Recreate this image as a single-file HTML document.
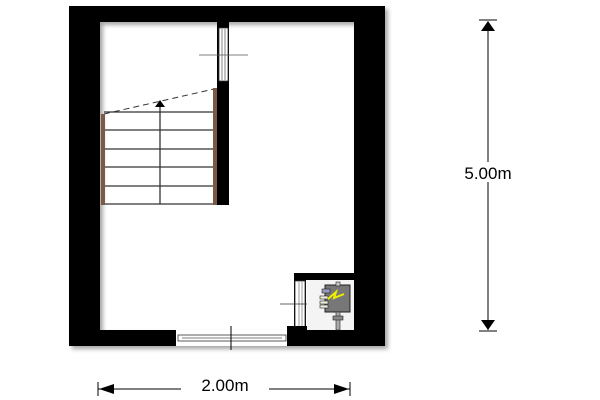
<!DOCTYPE html>
<html><head><meta charset="utf-8"><style>
html,body{margin:0;padding:0;background:#fff;width:600px;height:400px;overflow:hidden}
</style></head><body>
<svg width="600" height="400" xmlns="http://www.w3.org/2000/svg">
<defs><filter id="s" x="-10%" y="-10%" width="130%" height="130%"><feDropShadow dx="3" dy="3" stdDeviation="2" flood-color="#000" flood-opacity="0.35"/></filter></defs>
<g filter="url(#s)">
<path fill="#000" fill-rule="evenodd" d="M69 6H385V346H69Z M100 22H354V330H100Z"/>
</g>
<rect x="217" y="22" width="12" height="183" fill="#000"/>
<rect x="219" y="28" width="9" height="53" fill="#fff" stroke="#333" stroke-width="0.8"/>
<line x1="222" y1="29" x2="222" y2="80" stroke="#333" stroke-width="0.6"/>
<line x1="225" y1="29" x2="225" y2="80" stroke="#333" stroke-width="0.6"/>
<line x1="199" y1="55" x2="248" y2="55" stroke="#555" stroke-width="0.8"/>
<rect x="176" y="330" width="111" height="16" fill="#fff"/>
<rect x="178" y="335" width="108" height="6" fill="#fff" stroke="#333" stroke-width="0.8"/>
<line x1="182" y1="338" x2="282" y2="338" stroke="#555" stroke-width="0.8"/>
<line x1="231" y1="326" x2="231" y2="350" stroke="#000" stroke-width="1"/>
<g stroke="#333" stroke-width="1.3">
<line x1="104" y1="112" x2="216" y2="112"/>
<line x1="104" y1="130" x2="216" y2="130"/>
<line x1="104" y1="149" x2="216" y2="149"/>
<line x1="104" y1="167" x2="216" y2="167"/>
<line x1="104" y1="186" x2="216" y2="186"/>
<line x1="104" y1="204" x2="216" y2="204"/>
<line x1="160" y1="204" x2="160" y2="106"/>
</g>
<polygon points="160,100 155,107 165,107" fill="#000"/>
<line x1="104" y1="114" x2="214" y2="89" stroke="#333" stroke-width="1" stroke-dasharray="6,4"/>
<rect x="101" y="114" width="4" height="91" fill="#7a5a45"/>
<rect x="213" y="88" width="4" height="117" fill="#7a5a45"/>
<rect x="294" y="273" width="60" height="7" fill="#000"/>
<rect x="294" y="273" width="12" height="57" fill="#000"/>
<rect x="295" y="281" width="10" height="46" fill="#fff" stroke="#333" stroke-width="0.8"/>
<line x1="299" y1="282" x2="299" y2="326" stroke="#555" stroke-width="0.6"/>
<line x1="302" y1="282" x2="302" y2="326" stroke="#555" stroke-width="0.6"/>
<rect x="287" y="326" width="20" height="6" fill="#000"/>
<line x1="280" y1="304" x2="318" y2="304" stroke="#333" stroke-width="0.8"/>
<rect x="307" y="280" width="47" height="50" fill="#f4f4f4"/>
<rect x="325" y="285" width="25" height="27" fill="#777" stroke="#222" stroke-width="1"/>
<rect x="336" y="282" width="4" height="4" fill="#ccc" stroke="#222" stroke-width="0.6"/>
<rect x="322" y="289" width="8" height="4" fill="#99b" stroke="#222" stroke-width="0.6"/>
<rect x="320" y="296" width="8" height="3" fill="#eed" stroke="#222" stroke-width="0.6"/>
<rect x="320" y="301" width="8" height="3" fill="#eed" stroke="#222" stroke-width="0.6"/>
<rect x="320" y="305" width="8" height="3" fill="#eed" stroke="#222" stroke-width="0.6"/>
<polyline points="328,299 336,292 334,298 344,294" fill="none" stroke="#ee0" stroke-width="2"/>
<rect x="336" y="312" width="4" height="18" fill="#aaa" stroke="#222" stroke-width="0.6"/>
<rect x="333" y="316" width="10" height="4" fill="#888" stroke="#222" stroke-width="0.6"/>
<line x1="488" y1="22" x2="488" y2="330" stroke="#000" stroke-width="1"/>
<line x1="479" y1="20" x2="497" y2="20" stroke="#000"/>
<line x1="479" y1="331" x2="497" y2="331" stroke="#000"/>
<polygon points="488,21 481,31 495,31" fill="#000"/>
<polygon points="488,330 481,320 495,320" fill="#000"/>
<rect x="446" y="162" width="84" height="20" fill="#fff"/>
<text x="488" y="179" font-family="Liberation Sans, sans-serif" font-size="17" text-anchor="middle">5.00m</text>
<line x1="98" y1="389" x2="350" y2="389" stroke="#000"/>
<line x1="98" y1="382" x2="98" y2="396" stroke="#000"/>
<line x1="350" y1="382" x2="350" y2="396" stroke="#000"/>
<polygon points="99,389 114,384 114,394" fill="#000"/>
<polygon points="349,389 334,384 334,394" fill="#000"/>
<rect x="181" y="376" width="88" height="20" fill="#fff"/>
<text x="225" y="391" font-family="Liberation Sans, sans-serif" font-size="17" text-anchor="middle">2.00m</text>
</svg>
</body></html>
